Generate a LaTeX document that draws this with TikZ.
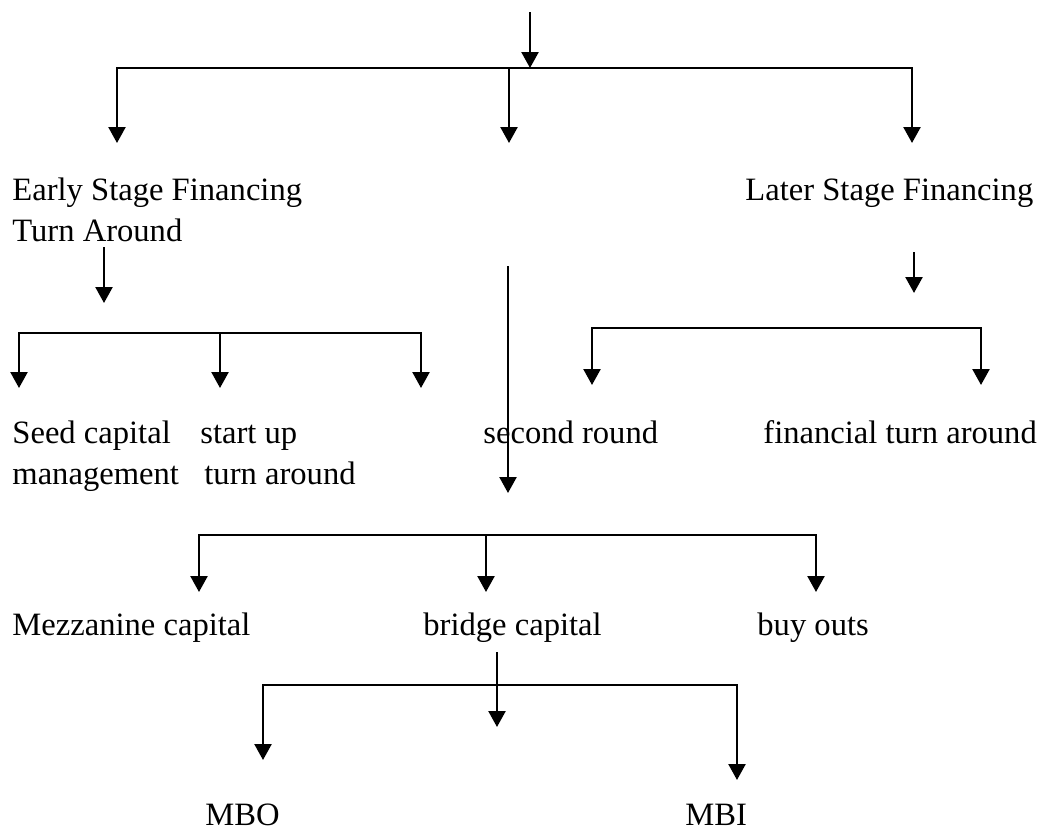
\documentclass[tikz,border=0pt]{standalone}
\usepackage{fontspec}
\setmainfont{Liberation Serif}
\usetikzlibrary{arrows.meta}
\begin{document}
\begin{tikzpicture}[x=0.5pt,y=-0.5pt,
  conn/.style={line width=1.2pt,line join=miter},
  arr/.style={conn,-{Triangle[width=8.5pt,length=8pt]}},
  arrtwo/.style={conn,{Triangle[width=8.5pt,length=8pt]}-{Triangle[width=8.5pt,length=8pt]}},
  lbl/.style={inner sep=0pt,anchor=base west,font=\fontsize{16.3pt}{20.5pt}\selectfont}]
\useasboundingbox (0,0) rectangle (1038,830);

% ---- labels ----
\node[lbl] (early)  at (12,200)  {Early Stage Financing};
\node[lbl] (turn)   at (12,241)  {Turn Around};
\node[lbl] (later)  at (745,200) {Later Stage Financing};
\node[lbl] (seed)   at (12,443)  {Seed capital};
\node[lbl] (start)  at (200,443) {start up};
\node[lbl] (mgmt)   at (12,484)  {management};
\node[lbl] (tround) at (204,484) {turn around};
\node[lbl] (second) at (483,443) {second round};
\node[lbl] (fin)    at (763,443) {financial turn around};
\node[lbl] (mezz)   at (12,635)  {Mezzanine capital};
\node[lbl] (bridge) at (423,635) {bridge capital};
\node[lbl] (buy)    at (757,635) {buy outs};
\node[lbl] (mbo)    at (205,825) {MBO};
\node[lbl] (mbi)    at (685,825) {MBI};

% ---- top level ----
\coordinate (top) at (530,12);
\coordinate (topj) at (530,68);
\coordinate (bAl) at (117,68);
\coordinate (bAr) at (912,68);
\coordinate (bAm) at (509,68);
\coordinate (tA1) at (117,143);
\coordinate (tA2) at (509,143);
\coordinate (tA3) at (912,143);
\draw[arr] (top) -- (topj);
\draw[arrtwo] (tA1) -- (bAl) -- (bAr) -- (tA3);
\draw[arr] (bAm) -- (tA2);

% ---- early stage branch ----
\coordinate (eS) at (104,247);
\coordinate (eT) at (104,303);
\draw[arr] (eS) -- (eT);
\coordinate (bBl) at (19,333);
\coordinate (bBm) at (220,333);
\coordinate (bBr) at (421,333);
\coordinate (tB1) at (19,388);
\coordinate (tB2) at (220,388);
\coordinate (tB3) at (421,388);
\draw[arrtwo] (tB1) -- (bBl) -- (bBr) -- (tB3);
\draw[arr] (bBm) -- (tB2);

% ---- later stage branch ----
\coordinate (lS) at (914,252);
\coordinate (lT) at (914,293);
\draw[arr] (lS) -- (lT);
\coordinate (bCl) at (592,328);
\coordinate (bCr) at (981,328);
\coordinate (tC1) at (592,385);
\coordinate (tC2) at (981,385);
\draw[arrtwo] (tC1) -- (bCl) -- (bCr) -- (tC2);

% ---- middle branch ----
\coordinate (mS) at (508,266);
\coordinate (mT) at (508,493);
\draw[arr] (mS) -- (mT);
\coordinate (bDl) at (199,535);
\coordinate (bDm) at (486,535);
\coordinate (bDr) at (816,535);
\coordinate (tD1) at (199,592);
\coordinate (tD2) at (486,592);
\coordinate (tD3) at (816,592);
\draw[arrtwo] (tD1) -- (bDl) -- (bDr) -- (tD3);
\draw[arr] (bDm) -- (tD2);

% ---- buy-out branch ----
\coordinate (oS) at (497,652);
\coordinate (oT) at (497,727);
\draw[arr] (oS) -- (oT);
\coordinate (bEl) at (263,685);
\coordinate (bEr) at (737,685);
\coordinate (tE1) at (263,760);
\coordinate (tE2) at (737,780);
\draw[arrtwo] (tE1) -- (bEl) -- (bEr) -- (tE2);
\end{tikzpicture}
\end{document}
